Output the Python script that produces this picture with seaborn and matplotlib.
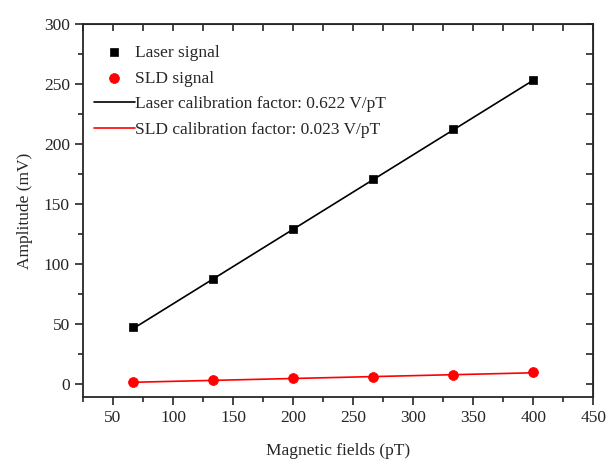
import numpy as np
import pandas as pd
import matplotlib
matplotlib.use("Agg")
import matplotlib.pyplot as plt
import seaborn as sns
from matplotlib.ticker import MultipleLocator

# data
fields = [66.7, 133.3, 200, 266.7, 333.3, 400]
laser_signal = [47, 87, 129, 171, 212, 253]
sld_signal = [1.5, 3.0, 4.5, 6.0, 7.5, 9.5]

fit_x = [66.7, 400]
laser_fit = [46, 253]
sld_fit = [1.3, 9.2]

sns.set_style("ticks")
plt.rcParams["font.family"] = ["Liberation Serif", "DejaVu Serif"]
plt.rcParams["font.size"] = 12.5

df = pd.DataFrame({"x": fields, "laser": laser_signal, "sld": sld_signal})
fit = pd.DataFrame({"x": fit_x, "laser": laser_fit, "sld": sld_fit})

fig, ax = plt.subplots(figsize=(6.06, 4.59), dpi=100)
fig.subplots_adjust(left=0.137, right=0.979, top=0.948, bottom=0.135)

sns.lineplot(data=fit, x="x", y="laser", color="black", lw=1.2, ax=ax,
             label="Laser calibration factor: 0.622 V/pT", zorder=2)
sns.lineplot(data=fit, x="x", y="sld", color="red", lw=1.2, ax=ax,
             label="SLD calibration factor: 0.023 V/pT", zorder=2)
sns.scatterplot(data=df, x="x", y="laser", marker="s", color="black", s=38,
                edgecolor="black", ax=ax, label="Laser signal", zorder=3)
sns.scatterplot(data=df, x="x", y="sld", marker="o", color="red", s=50,
                edgecolor="red", ax=ax, label="SLD signal", zorder=3)

ax.set_xlim(25, 450)
ax.set_ylim(-11, 300)
ax.set_xticks(np.arange(50, 451, 50))
ax.set_yticks(np.arange(0, 301, 50))
ax.xaxis.set_minor_locator(MultipleLocator(25))
ax.yaxis.set_minor_locator(MultipleLocator(25))
ax.tick_params(which="major", direction="out", length=6, width=1.2)
ax.tick_params(which="minor", direction="out", length=3.5, width=1.2)
for s in ax.spines.values():
    s.set_linewidth(1.3)

# mirrored ticks on top and right, pointing inward
top = ax.secondary_xaxis("top")
top.xaxis.set_major_locator(MultipleLocator(50))
top.xaxis.set_minor_locator(MultipleLocator(25))
top.tick_params(which="both", direction="in", length=5, width=1.2, labeltop=False)
right = ax.secondary_yaxis("right")
right.yaxis.set_major_locator(MultipleLocator(50))
right.yaxis.set_minor_locator(MultipleLocator(25))
right.tick_params(which="both", direction="in", length=5, width=1.2, labelright=False)

ax.set_xlabel("Magnetic fields (pT)", labelpad=12)
ax.set_ylabel("Amplitude (mV)", labelpad=8)

h, l = ax.get_legend_handles_labels()
order = [2, 3, 0, 1]
ax.legend([h[i] for i in order], [l[i] for i in order], loc="upper left",
          frameon=False, fontsize=12.5, bbox_to_anchor=(-0.01, 0.986),
          handlelength=2.4, handletextpad=0.0, labelspacing=0.55,
          borderaxespad=0.5)

fig.savefig("out.png", dpi=100)
